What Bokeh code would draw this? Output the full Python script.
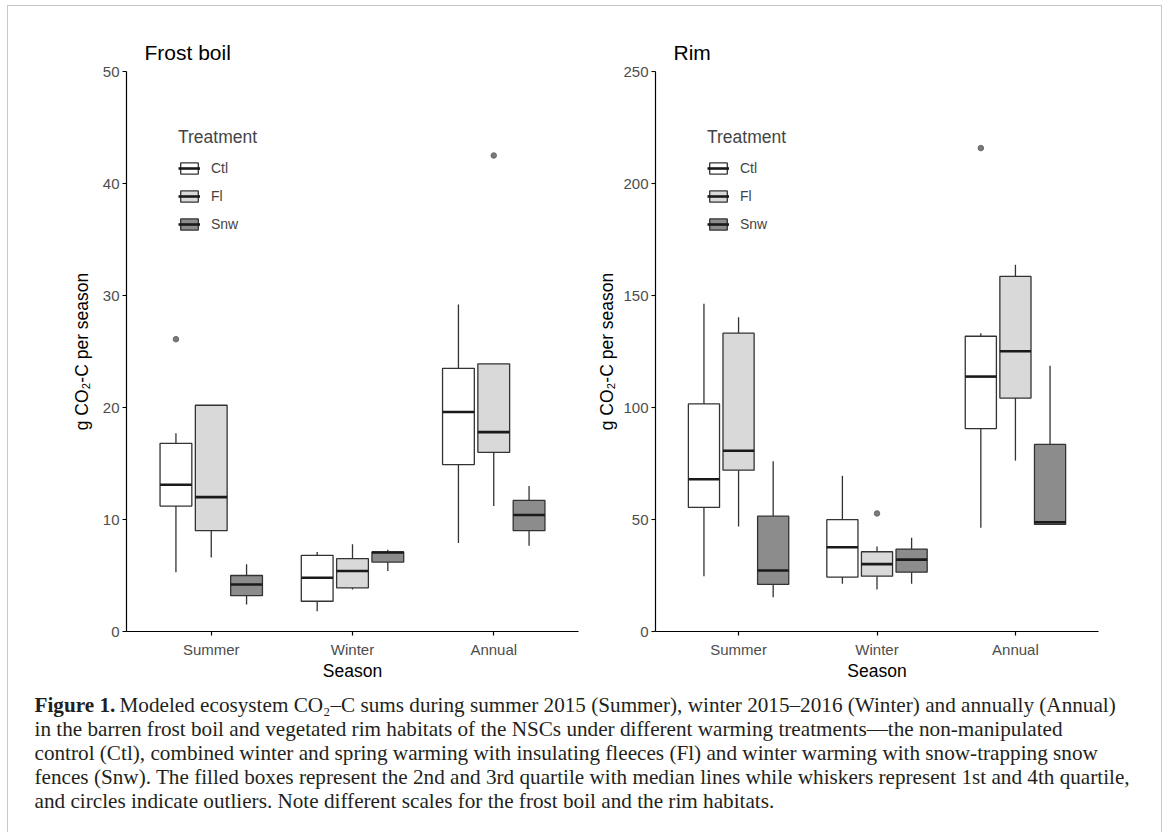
from bokeh.plotting import figure
from bokeh.models import (Range1d, FixedTicker, SingleIntervalTicker, ColumnDataSource,
                          Legend, LegendItem, Label)
from bokeh.transform import dodge
from bokeh.layouts import column, row
from bokeh.embed import file_html
from bokeh.resources import INLINE

# ---------------- data ----------------
seasons = ["Summer", "Winter", "Annual"]
season_pos = [1, 2, 3]
treatments = ["Ctl", "Fl", "Snw"]
fills = {"Ctl": "#ffffff", "Fl": "#d9d9d9", "Snw": "#8c8c8c"}
offsets = {"Ctl": -0.25, "Fl": 0.0, "Snw": 0.25}

# Frost boil (values per season: Summer, Winter, Annual)
fb_low = {"Ctl": [5.3, 1.8, 7.9], "Fl": [6.6, 3.75, 11.2], "Snw": [2.4, 5.4, 7.65]}
fb_q1 = {"Ctl": [11.2, 2.7, 14.9], "Fl": [9.0, 3.9, 16.0], "Snw": [3.2, 6.2, 9.0]}
fb_med = {"Ctl": [13.1, 4.8, 19.6], "Fl": [12.0, 5.4, 17.8], "Snw": [4.2, 7.05, 10.4]}
fb_q3 = {"Ctl": [16.8, 6.8, 23.5], "Fl": [20.2, 6.5, 23.9], "Snw": [5.0, 7.1, 11.7]}
fb_up = {"Ctl": [17.7, 7.1, 29.2], "Fl": [20.2, 7.8, 23.9], "Snw": [6.0, 7.3, 13.0]}
fb_out_season = [1, 3]
fb_out_treat = ["Ctl", "Fl"]
fb_out_val = [26.1, 42.5]

# Rim
rim_low = {"Ctl": [24.7, 21.3, 46.3], "Fl": [46.9, 18.75, 76.3], "Snw": [15.3, 21.3, 47.8]}
rim_q1 = {"Ctl": [55.4, 24.3, 90.6], "Fl": [72.0, 24.7, 104.2], "Snw": [21.0, 26.5, 47.8]}
rim_med = {"Ctl": [68.0, 37.6, 113.8], "Fl": [80.7, 30.1, 125.1], "Snw": [27.2, 32.1, 48.8]}
rim_q3 = {"Ctl": [101.6, 49.9, 131.8], "Fl": [133.2, 35.6, 158.5], "Snw": [51.5, 36.8, 83.5]}
rim_up = {"Ctl": [146.3, 69.5, 133.2], "Fl": [140.3, 37.9, 163.7], "Snw": [76.0, 41.8, 118.6]}
rim_out_season = [3, 2]
rim_out_treat = ["Ctl", "Fl"]
rim_out_val = [215.8, 52.7]

caption_lines = [
    "Modeled ecosystem CO\u2082\u2013C sums during summer 2015 (Summer), winter 2015\u20132016 (Winter) and annually (Annual)",
    "in the barren frost boil and vegetated rim habitats of the NSCs under different warming treatments\u2014the non-manipulated",
    "control (Ctl), combined winter and spring warming with insulating fleeces (Fl) and winter warming with snow-trapping snow",
    "fences (Snw). The filled boxes represent the 2nd and 3rd quartile with median lines while whiskers represent 1st and 4th quartile,",
    "and circles indicate outliers. Note different scales for the frost boil and the rim habitats.",
]

SANS = "Liberation Sans"
SERIF = "Liberation Serif"
LINE = "#333333"
BOXW = 0.225


def panel(title, ymax, yint, low, q1, med, q3, up, out_s, out_t, out_v,
          width, bl, br, leg_x, leg_y, ylab_standoff):
    p = figure(width=width, height=681, x_range=Range1d(0.4, 3.6), y_range=Range1d(0, ymax),
               output_backend="svg", toolbar_location=None,
               min_border_left=bl, min_border_right=br, min_border_top=65, min_border_bottom=56,
               title=title)
    p.title.text_font = SANS
    p.title.text_font_size = "21px"
    p.title.text_font_style = "normal"
    p.title.text_color = "black"
    p.title.offset = 18
    p.title.standoff = 16
    p.outline_line_color = None
    p.xgrid.visible = False
    p.ygrid.visible = False

    items = []
    for t in treatments:
        src = ColumnDataSource(dict(x=season_pos, low=low[t], q1=q1[t], med=med[t],
                                    q3=q3[t], up=up[t]))
        off = offsets[t]
        xd = dodge("x", off, range=p.x_range)
        p.segment(x0=xd, x1=xd, y0="low", y1="q1", source=src, line_color=LINE, line_width=1.3)
        p.segment(x0=xd, x1=xd, y0="q3", y1="up", source=src, line_color=LINE, line_width=1.3)
        box = p.vbar(x=xd, width=BOXW, bottom="q1", top="q3", source=src,
                     fill_color=fills[t], line_color=LINE, line_width=1.3)
        medr = p.segment(x0=dodge("x", off - BOXW / 2, range=p.x_range),
                         x1=dodge("x", off + BOXW / 2, range=p.x_range),
                         y0="med", y1="med", source=src, line_color="#1a1a1a", line_width=2.6)
        items.append(LegendItem(label=t, renderers=[box, medr]))
        ox = [s for s, tt in zip(out_s, out_t) if tt == t]
        oy = [v for v, tt in zip(out_v, out_t) if tt == t]
        if ox:
            osrc = ColumnDataSource(dict(x=ox, y=oy))
            p.scatter(x=dodge("x", off, range=p.x_range), y="y", source=osrc, size=5.5,
                      fill_color="#7a7a7a", line_color="#6a6a6a")

    leg = Legend(items=items, location=(leg_x, leg_y), title="Treatment",
                 title_text_font=SANS, title_text_font_size="17.5px", title_text_font_style="normal",
                 title_standoff=12,
                 label_text_font=SANS, label_text_font_size="14px", label_standoff=11,
                 glyph_width=22, glyph_height=14, label_height=14, spacing=12,
                 padding=0, margin=0, border_line_color=None, background_fill_alpha=0)
    p.add_layout(leg)

    p.xaxis.ticker = FixedTicker(ticks=season_pos)
    p.xaxis.major_label_overrides = {pos: s for pos, s in zip(season_pos, seasons)}
    p.yaxis.ticker = SingleIntervalTicker(interval=yint)
    p.xaxis.axis_label = "Season"
    p.yaxis.axis_label = "g CO\u2082-C per season"
    for ax in (p.xaxis[0], p.yaxis[0]):
        ax.axis_line_color = "black"
        ax.axis_line_width = 1.2
        ax.major_tick_line_color = "black"
        ax.major_tick_line_width = 1.2
        ax.major_tick_out = 4
        ax.major_tick_in = 0
        ax.minor_tick_line_color = None
        ax.major_label_text_font = SANS
        ax.major_label_text_font_size = "15px"
        ax.major_label_text_color = "#4d4d4d"
        ax.axis_label_text_font = SANS
        ax.axis_label_text_font_size = "17.5px"
        ax.axis_label_text_font_style = "normal"
        ax.axis_label_text_color = "black"
    p.xaxis.major_label_standoff = 5
    p.xaxis.axis_label_standoff = 0
    p.yaxis.major_label_standoff = 3
    p.yaxis.axis_label_standoff = ylab_standoff
    return p


p1 = panel("Frost boil", 50, 10, fb_low, fb_q1, fb_med, fb_q3, fb_up,
           fb_out_season, fb_out_treat, fb_out_val, 571, 118, 1, 52, 399, 8)
p2 = panel("Rim", 250, 50, rim_low, rim_q1, rim_med, rim_q3, rim_up,
           rim_out_season, rim_out_treat, rim_out_val, 582, 76, 63, 52, 399, 3)

CW, CH = 1153, 145
cap = figure(width=CW, height=CH, x_range=Range1d(0, CW), y_range=Range1d(0, CH),
             output_backend="svg", toolbar_location=None, min_border=0)
cap.axis.visible = False
cap.xgrid.visible = False
cap.ygrid.visible = False
cap.outline_line_color = None
FS = "21.2px"
ys = [128, 104, 80, 56, 32]
cap.add_layout(Label(x=26, y=ys[0], text="Figure 1.", text_font=SERIF, text_font_size=FS,
                     text_font_style="bold", text_baseline="middle", text_color="#231f20"))
for i, (line, yy) in enumerate(zip(caption_lines, ys)):
    cap.add_layout(Label(x=111 if i == 0 else 26, y=yy, text=line, text_font=SERIF,
                         text_font_size=FS, text_baseline="middle", text_color="#231f20"))

layout = column(row(p1, p2), cap, margin=(5, 0, 0, 7),
                styles={"border": "1px solid #c8c8c8", "border-bottom": "none"})

open("out.html", "w").write(file_html(layout, INLINE))
